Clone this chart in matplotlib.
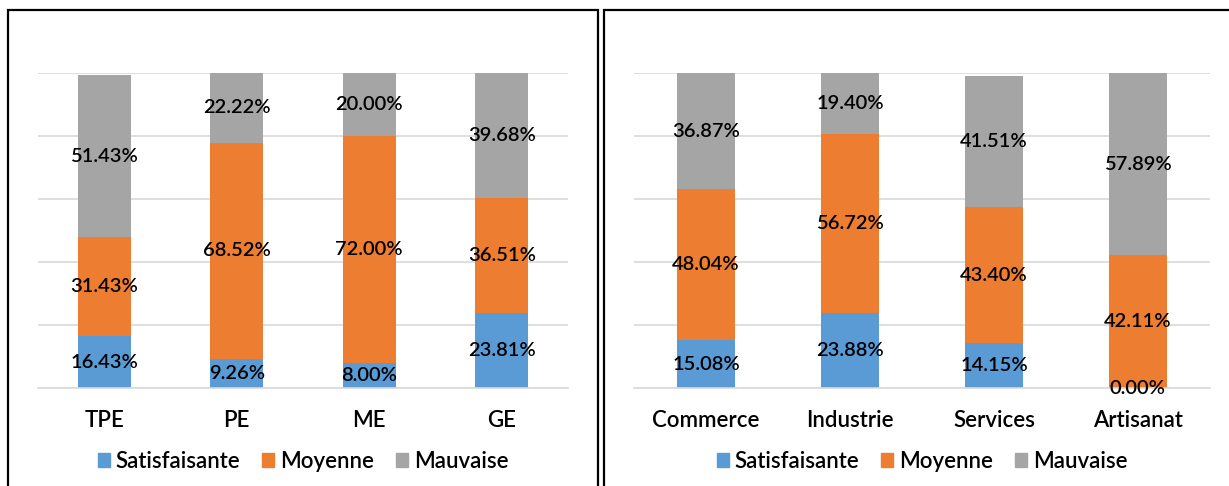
import matplotlib
matplotlib.use("Agg")
import matplotlib.pyplot as plt
from matplotlib.patches import Rectangle, Patch

plt.rcParams['font.family'] = ['Lato', 'DejaVu Sans']

series = ["Satisfaisante", "Moyenne", "Mauvaise"]
colors = ["#5B9BD5", "#ED7D31", "#A5A5A5"]

size_cats = ["TPE", "PE", "ME", "GE"]
size_satis = [16.43, 9.26, 8.00, 23.81]
size_moy = [31.43, 68.52, 72.00, 36.51]
size_mauv = [51.43, 22.22, 20.00, 39.68]

sect_cats = ["Commerce", "Industrie", "Services", "Artisanat"]
sect_satis = [15.08, 23.88, 14.15, 0.00]
sect_moy = [48.04, 56.72, 43.40, 42.11]
sect_mauv = [36.87, 19.40, 41.51, 57.89]

W, H = 1229, 486
fig = plt.figure(figsize=(W / 100, H / 100), dpi=100)

def fx(px):
    return px / W

def fy(py):
    return 1 - py / H

# panel borders
for x0, x1 in [(8, 598), (604, 1240)]:
    fig.add_artist(Rectangle((fx(x0), fy(500)), fx(x1 - x0), fy(10) - fy(500),
                             transform=fig.transFigure, fill=False,
                             edgecolor="black", linewidth=1.6, zorder=0))

def draw(rect, cats, vals):
    ax = fig.add_axes(rect)
    x = list(range(len(cats)))
    bottom = [0.0] * len(cats)
    for name, col, v in zip(series, colors, vals):
        ax.bar(x, v, width=0.4, bottom=bottom, color=col, label=name, zorder=2)
        for i in x:
            ax.text(i, bottom[i] + v[i] / 2, f"{v[i]:.2f}%", ha="center", va="center",
                    fontsize=14.5, fontweight="semibold", color="black", zorder=3)
        bottom = [b + vv for b, vv in zip(bottom, v)]
    ax.set_ylim(0, 100)
    ax.set_xlim(-0.5, len(cats) - 0.5)
    ax.set_yticks([0, 20, 40, 60, 80, 100])
    ax.yaxis.grid(True, color="#D9D9D9", linewidth=1.2, zorder=0)
    ax.set_axisbelow(True)
    for s in ["top", "right", "left"]:
        ax.spines[s].set_visible(False)
    ax.spines["bottom"].set_color("#D9D9D9")
    ax.spines["bottom"].set_linewidth(1.2)
    ax.set_yticklabels([])
    ax.tick_params(axis="y", length=0)
    ax.tick_params(axis="x", length=0, pad=16, labelsize=16)
    for t in ax.get_xticklabels():
        t.set_fontweight("semibold")
    ax.set_xticks(x)
    ax.set_xticklabels(cats, fontweight="semibold")
    handles = [Patch(color=c) for c in colors]
    ax.legend(handles, series, loc="center", bbox_to_anchor=(0.5, -0.233), ncol=3,
              frameon=False, handlelength=0.55, handleheight=0.55,
              handletextpad=0.25, columnspacing=1.0,
              prop={"size": 16, "weight": "semibold"})
    return ax

draw([fx(38), fy(388), fx(530), fy(73) - fy(388)], size_cats,
     [size_satis, size_moy, size_mauv])
draw([fx(634), fy(388), fx(576), fy(73) - fy(388)], sect_cats,
     [sect_satis, sect_moy, sect_mauv])

fig.savefig("out.png", dpi=100)
